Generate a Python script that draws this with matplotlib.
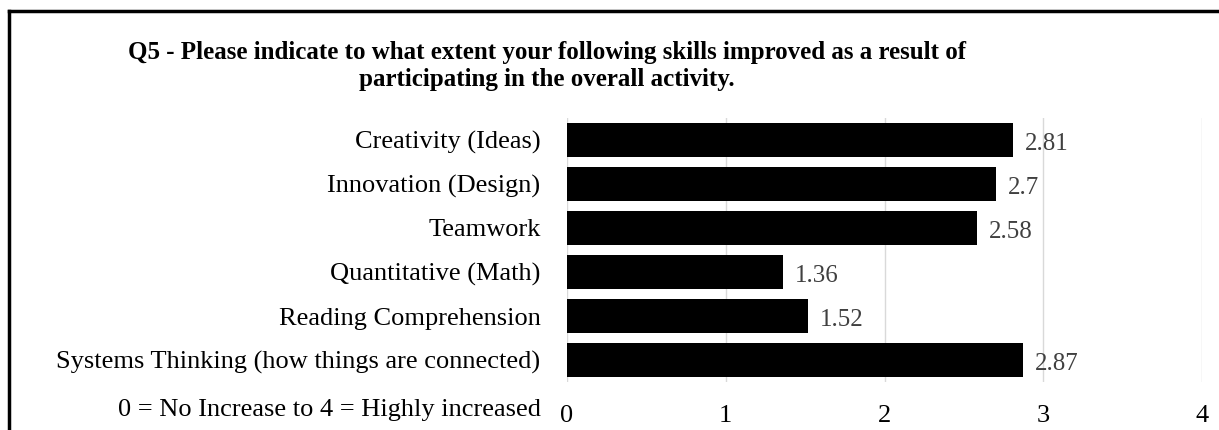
import matplotlib
matplotlib.use("Agg")
import matplotlib.pyplot as plt
from matplotlib.lines import Line2D

plt.rcParams["font.family"] = ["Liberation Serif", "DejaVu Serif"]

# --- data ---
skills = [
    "Creativity (Ideas)",
    "Innovation (Design)",
    "Teamwork",
    "Quantitative (Math)",
    "Reading Comprehension",
    "Systems Thinking (how things are connected)",
]
scores = [2.81, 2.7, 2.58, 1.36, 1.52, 2.87]
x_ticks = [0, 1, 2, 3, 4]
title_lines = [
    "Q5 - Please indicate to what extent your following skills improved as a result of",
    "participating in the overall activity.",
]
scale_note = "0 = No Increase to 4 = Highly increased"

W, H = 1219, 430
fig = plt.figure(figsize=(W / 100, H / 100), dpi=100)

# plot area in pixels: x 567..1202, y 118..382
ax = fig.add_axes([567 / W, 1 - 382 / H, (1202 - 567) / W, (382 - 118) / H])

ypos = list(range(len(skills)))
ax.barh(ypos, scores, height=0.77, color="black", zorder=3)
ax.set_ylim(len(skills) - 0.5, -0.5)
ax.set_xlim(0, 4)
ax.set_xticks(x_ticks)
ax.set_xticklabels([str(t) for t in x_ticks], fontsize=19)
ax.set_yticks(ypos)
ax.set_yticklabels(skills, fontsize=19)
ax.tick_params(axis="x", length=0, pad=16.5)
ax.tick_params(axis="y", length=0, pad=19)
ax.grid(axis="x", color="#d9d9d9", lw=1, zorder=0)
for s in ax.spines.values():
    s.set_visible(False)

for y, v in zip(ypos, scores):
    ax.text(v + 0.075, y + 0.08, f"{v:g}", va="center", ha="left",
            fontsize=18, color="#404040")

fig.text(541 / W, 1 - 416 / H, scale_note, ha="right", va="baseline", fontsize=19)

for i, line in enumerate(title_lines):
    fig.text(547 / W, 1 - (59 + 27 * i) / H, line, ha="center", va="baseline",
             fontsize=18, fontweight="bold")

# outer frame (top and left edges visible)
fig.add_artist(Line2D([9 / W, 1.0], [1 - 11 / H, 1 - 11 / H],
                      transform=fig.transFigure, color="black", lw=2.5))
fig.add_artist(Line2D([9 / W, 9 / W], [0, 1 - 11 / H],
                      transform=fig.transFigure, color="black", lw=2.5))

fig.savefig("out.png", dpi=100)
